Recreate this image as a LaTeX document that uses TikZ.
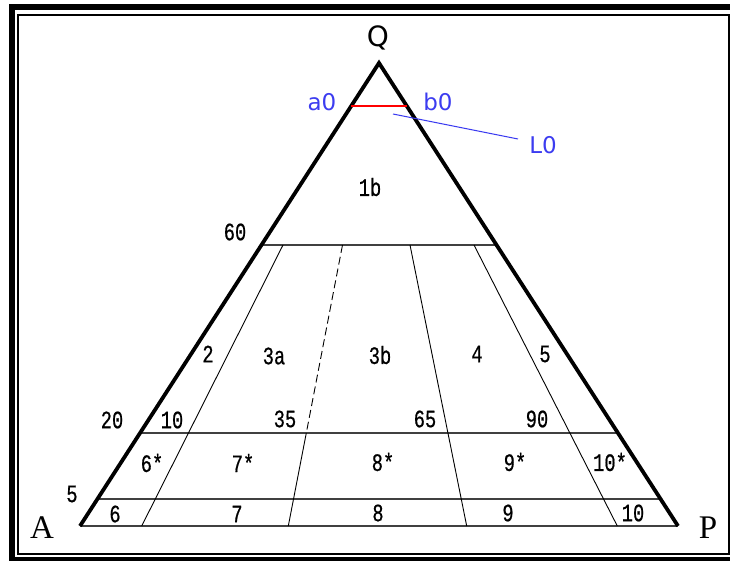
\documentclass[tikz,border=0pt]{standalone}
\usepackage{fontspec}
\setmainfont{Liberation Serif}
\newfontfamily\sansf{DejaVu Sans}
\newfontfamily\numfont[FakeStretch=0.75,FakeBold=0.6]{Liberation Mono}
\usetikzlibrary{calc}
\definecolor{lblue}{RGB}{60,60,240}
\tikzset{
  side/.style={line width=3.8pt, line join=miter},
  hline/.style={line width=2pt, black!75},
  thinline/.style={line width=0.9pt},
  dashline/.style={line width=0.9pt, dash pattern=on 8pt off 4pt},
  num/.style={font=\numfont\fontsize{25}{25}\selectfont, inner sep=0pt},
  blab/.style={font=\sansf\fontsize{23}{23}\selectfont, text=lblue, inner sep=0pt},
  corner/.style={font=\fontsize{33}{33}\selectfont, inner sep=0pt}
}
\begin{document}
\begin{tikzpicture}[x=1pt,y=-1pt]
\useasboundingbox (0,0) rectangle (730,561);
% frame
\draw[line width=6pt] (12,7) rectangle (745,560);
\draw[line width=1.4pt] (18,15) rectangle (729,554);
% triangle corners
\coordinate (Q) at (379,63);
\coordinate (A) at (80,526);
\coordinate (P) at (678,526);
% points on sides
\coordinate (ra) at ($(Q)!0.0929!(A)$);
\coordinate (rb) at ($(Q)!0.0929!(P)$);
\coordinate (h1a) at ($(Q)!0.3931!(A)$);
\coordinate (h1b) at ($(Q)!0.3931!(P)$);
\coordinate (h2a) at ($(Q)!0.7991!(A)$);
\coordinate (h2b) at ($(Q)!0.7991!(P)$);
\coordinate (h3a) at ($(Q)!0.9417!(A)$);
\coordinate (h3b) at ($(Q)!0.9417!(P)$);
% internal line ends
\coordinate (l1t) at (283,245);
\coordinate (l1b) at (141.7,526);
\coordinate (l2t) at (342.5,245);
\coordinate (l2m) at (306.3,433);
\coordinate (l2b) at (288.3,526);
\coordinate (l3t) at (410,245);
\coordinate (l3b) at (466.7,526);
\coordinate (l4t) at (474,245);
\coordinate (l4b) at (617.3,526);
% horizontals
\draw[hline] (h1a) -- (h1b);
\draw[hline] (h2a) -- (h2b);
\draw[hline] (h3a) -- (h3b);
\draw[hline] (A) -- (P);
% internal lines
\draw[thinline] (l1t) -- (l1b);
\draw[dashline] (l2t) -- (l2m);
\draw[thinline] (l2m) -- (l2b);
\draw[thinline] (l3t) -- (l3b);
\draw[thinline] (l4t) -- (l4b);
% sides
\draw[side] (A) -- (Q) -- (P);
% red and blue
\draw[red, line width=1.6pt] (ra) -- (rb);
\node[blab] (a0) at (322,102) {a0};
\node[blab] (b0) at (438,102) {b0};
\node[blab] (L0) at (543,145) {L0};
\coordinate (L0s) at (393,114);
\coordinate (L0e) at (518,139);
\draw[lblue, line width=1pt] (L0s) -- (L0e);
\node[font=\sansf\fontsize{28}{28}\selectfont, inner sep=0pt] (Qlab) at (378,38) {Q};
\node[corner] (Alab) at (42,528) {A};
\node[corner] (Plab) at (708,528) {P};
% region numbers
\node[num] (n1b) at (370,187) {1b};
\node[num] (n60) at (235,232) {60};
\node[num] (n2) at (208,354) {2};
\node[num] (n3a) at (274,356) {3a};
\node[num] (n3b) at (380,355) {3b};
\node[num] (n4) at (477,354) {4};
\node[num] (n5) at (545,354) {5};
\node[num] (n20) at (112,420) {20};
\node[num] (n10u) at (172,420) {10};
\node[num] (n35) at (285,419) {35};
\node[num] (n65) at (425,419) {65};
\node[num] (n90) at (537,419) {90};
\node[num] (n6s) at (152,463) {6*};
\node[num] (n7s) at (243,463) {7*};
\node[num] (n8s) at (383,462) {8*};
\node[num] (n9s) at (515,462) {9*};
\node[num] (n10s) at (610,462) {10*};
\node[num] (n5l) at (72,494) {5};
\node[num] (n6) at (115,514) {6};
\node[num] (n7) at (237,514) {7};
\node[num] (n8) at (378,513) {8};
\node[num] (n9) at (508,513) {9};
\node[num] (n10l) at (633,513) {10};
\end{tikzpicture}
\end{document}
